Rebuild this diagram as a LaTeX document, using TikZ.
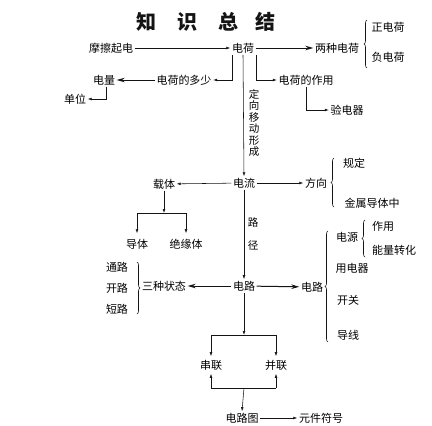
\documentclass[tikz,border=0pt]{standalone}
\usepackage{fontspec}
\usepackage{xcolor}
\usepackage{tikz}
\usetikzlibrary{positioning,arrows.meta,calc,decorations.pathreplacing}
\newfontfamily\cjk{Noto Sans CJK SC}
\definecolor{inkgray}{RGB}{20,20,20}

\begin{document}
\begin{tikzpicture}[x=1pt, y=-1pt,
  lbl/.style={inner sep=1.5pt, font=\cjk\fontsize{11}{13}\selectfont, text=black},
  ttl/.style={inner sep=0pt, font=\cjk\bfseries\fontsize{20}{24}\selectfont, text=inkgray},
  tarr/.style={-{Latex[length=4pt,width=2.8pt]}, line width=0.55pt, color=inkgray},
  barr/.style={-{Stealth[length=8pt,width=4.5pt]}, line width=1pt, color=inkgray},
  plain/.style={line width=0.7pt, color=inkgray},
  brace/.style={decorate, decoration={brace, amplitude=3pt}, line width=0.55pt, color=inkgray}
]
  \useasboundingbox[fill=white] (0,0) rectangle (432,426);

  % title
  \node[ttl] (title) at (206,22) {知\hspace{21pt}识\hspace{21pt}总\hspace{17pt}结};

  % charge
  \node[lbl] (friction) at (111,48) {摩擦起电};
  \node[lbl] (charge) at (243,48) {电荷};
  \node[lbl] (twokinds) at (337,48) {两种电荷};
  \node[lbl] (pos) at (388,27) {正电荷};
  \node[lbl] (neg) at (388,57) {负电荷};
  \node[lbl] (amount) at (184,80) {电荷的多少};
  \node[lbl] (quantity) at (104,80) {电量};
  \node[lbl] (unit) at (75,99) {单位};
  \node[lbl] (effect) at (306,80) {电荷的作用};
  \node[lbl] (electroscope) at (347,110) {验电器};

  \draw[tarr] (friction) -- (charge);
  \draw[barr] (charge) -- (twokinds);
  \draw[brace] (367,68) -- (367,20);
  \draw[tarr] ([xshift=-11pt]charge.south) |- (amount.east);
  \draw[barr] (amount) -- (quantity);
  \draw[tarr] ([xshift=2pt]quantity.south) |- (unit.east);
  \draw[tarr] ([xshift=13pt]charge.south) |- (effect.west);
  \draw[tarr] (effect.south) |- (electroscope.west);

  % current
  \node[lbl] (current) at (244,183) {电流};
  \node[lbl, align=center, font=\cjk\fontsize{10.5}{11.5}\selectfont] (forms) at (254,123) {定\\向\\移\\动\\形\\成};
  \draw[tarr] (charge.south) -- (current.north);

  \node[lbl] (direction) at (316,183) {方向};
  \node[lbl] (rule) at (354,163) {规定};
  \node[lbl] (metal) at (372,203) {金属导体中};
  \draw[tarr] (current) -- (direction);
  \draw[brace] (334,207) -- (334,158);

  \node[lbl] (carrier) at (164,184) {载体};
  \node[lbl] (conductor) at (137,244) {导体};
  \node[lbl] (insulator) at (186,244) {绝缘体};
  \coordinate (cbar) at (164,213);
  \draw[tarr] (current) -- (carrier);
  \draw[tarr] (carrier) -- (cbar);
  \draw[plain] (conductor.north |- cbar) -- (insulator.north |- cbar);
  \draw[tarr] (conductor.north |- cbar) -- ([yshift=4pt]conductor.north);
  \draw[tarr] (insulator.north |- cbar) -- ([yshift=4pt]insulator.north);

  % circuit
  \node[lbl] (circuit) at (244,286) {电路};
  \node[lbl, align=center, font=\cjk\fontsize{10.5}{23}\selectfont] (path) at (253,234) {路\\径};
  \draw[tarr] (current.south) -- (circuit.north);

  \node[lbl] (states) at (164,286) {三种状态};
  \node[lbl] (closed) at (117,267) {通路};
  \node[lbl] (open) at (117,288) {开路};
  \node[lbl] (short) at (117,309) {短路};
  \draw[barr] (circuit) -- (states);
  \draw[brace] (137,262) -- (137,314);

  \node[lbl] (parts) at (312,287) {电路};
  \node[lbl] (source) at (347,237) {电源};
  \node[lbl] (role) at (383,226) {作用};
  \node[lbl] (energy) at (394,250) {能量转化};
  \node[lbl] (appliance) at (352,268) {用电器};
  \node[lbl] (switch) at (348,300) {开关};
  \node[lbl] (wire) at (348,335) {导线};
  \draw[barr] (circuit) -- (parts);
  \draw[brace] (328,342) -- (328,231);
  \draw[brace] (365,257) -- (365,220);

  % series and parallel
  \node[lbl] (series) at (211,365) {串联};
  \node[lbl] (parallel) at (276,365) {并联};
  \node[lbl] (diagram) at (242,418) {电路图};
  \node[lbl] (symbols) at (321,418) {元件符号};
  \coordinate (sbar) at (244,335);
  \coordinate (pbar) at (244,388);
  \draw[tarr] (circuit.south) -- (sbar);
  \draw[plain] (series.north |- sbar) -- (parallel.north |- sbar);
  \draw[tarr] (series.north |- sbar) -- ([yshift=2pt]series.north);
  \draw[tarr] (parallel.north |- sbar) -- ([yshift=2pt]parallel.north);
  \draw[plain] (series.south |- pbar) -- (parallel.south |- pbar);
  \draw[tarr] (series.south |- pbar) -- ([yshift=-2pt]series.south);
  \draw[tarr] (parallel.south |- pbar) -- ([yshift=-2pt]parallel.south);
  \draw[tarr] (pbar) -- (diagram.north);
  \draw[tarr] (diagram) -- (symbols);
\end{tikzpicture}
\end{document}
